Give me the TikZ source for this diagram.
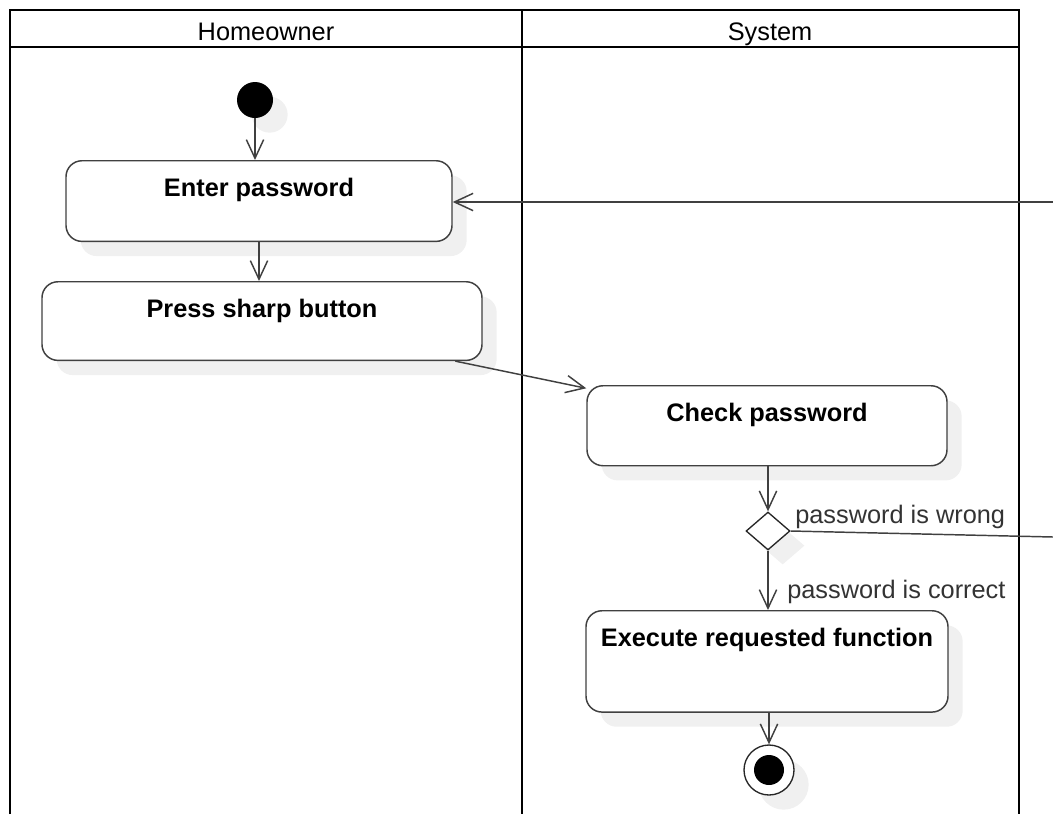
\documentclass[tikz,border=0pt]{standalone}
\usepackage{fontspec}
\setmainfont{Liberation Sans}
\usetikzlibrary{arrows.meta,shapes.geometric,shadows}

\begin{document}
\begin{tikzpicture}
        [x=0.75pt,y=-0.75pt,font=\fontsize{19}{22}\selectfont]
            \tikzstyle{lane}=[line width=2.2pt]
            \tikzstyle{shade}=[drop shadow={shadow xshift=11pt, shadow yshift=-11pt, fill=black!6, opacity=1}]
            \tikzstyle{act}=[rectangle, draw=black!75, line width=1.1pt, rounded corners=12pt,
        fill=white, shade, inner sep=0pt, anchor=north, text height=26.5pt,
        font=\fontsize{19}{22}\selectfont\bfseries]
            \tikzstyle{flow}=[draw=black!75, line width=1.1pt, -{Straight Barb[length=14pt,width=13pt]}]
            \tikzstyle{guard}=[inner sep=0pt, anchor=base west, text=black!80]
        \useasboundingbox (0,0) rectangle (1053,814);
        %-----lanes
         \draw[lane] (10,814) -- (10,10) -- (1019,10) -- (1019,814);
         \draw[lane] (522,10) -- (522,814);
         \draw[lane] (10,47) -- (1019,47);
         \node[inner sep=0pt, anchor=base]  (hdhome) at (266,40) {Homeowner};
         \node[inner sep=0pt, anchor=base]  (hdsys) at (770,40) {System};
        %-----Homeowner
         \node[circle, fill=black, minimum size=27pt, inner sep=0pt, shade]  (start) at (255,100) {};
         \node[act, minimum width=289.5pt, text depth=34pt]  (enter) at (259,160) {Enter password};
         \node[act, minimum width=330pt, text depth=32.5pt]  (press) at (262,281) {Press sharp button};
        %-----System
         \node[act, minimum width=270pt, text depth=33.5pt]  (check) at (767,385) {Check password};
         \node[diamond, draw=black!85, line width=1pt, fill=white, minimum width=33pt,
         minimum height=28.5pt, inner sep=0pt, shade]  (dec) at (768,531) {};
         \node[act, minimum width=271.5pt, text depth=49.5pt]  (exec) at (767,610) {Execute requested function};
         \node[circle, draw=black!85, line width=1pt, fill=white, minimum size=37.5pt,
         inner sep=0pt, shade]  (end) at (769,770) {};
         \node[circle, fill=black, minimum size=22.5pt, inner sep=0pt]  (endin) at (end) {};
         \node[guard]  (wrong) at (795,523) {password is wrong};
         \node[guard]  (right) at (787,598) {password is correct};
         \coordinate (wrongout) at (1053,537);
         \coordinate (backin) at (1053,202);

         \draw[flow] (start) -- (start |- enter.north);
         \draw[flow] (enter.south) -- (enter.south |- press.north);
         \draw[flow] (press) -- (check);
         \draw[flow] (check.south -| dec) -- (dec.north);
         \draw[flow] (dec.south) -- (dec.south |- exec.north);
         \draw[flow] (exec.south -| end) -- (end.north);
         \draw[draw=black!75, line width=1.1pt] (dec.east) -- (wrongout);
         \draw[flow] (backin) -- (backin -| enter.east);

    % wrong password goes back to the first step
        \end{tikzpicture}
\end{document}
